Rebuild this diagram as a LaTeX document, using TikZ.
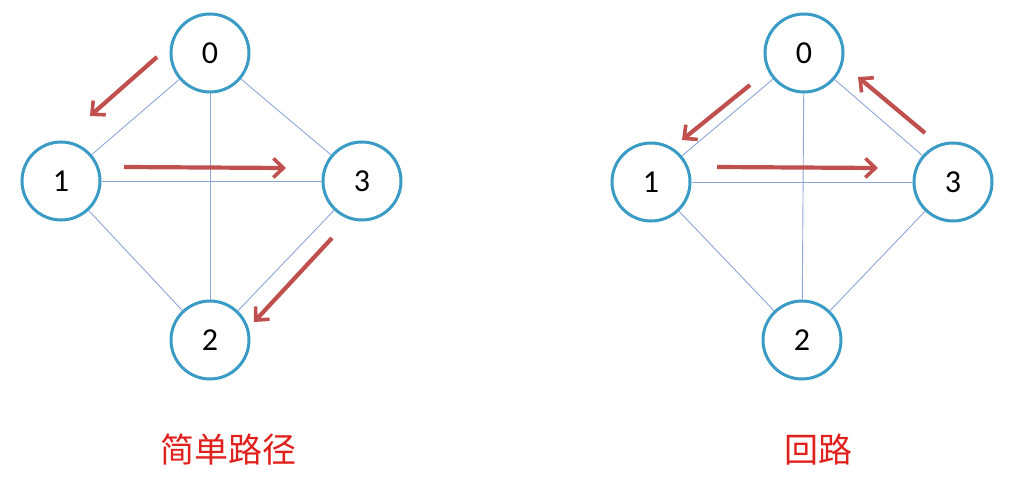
\documentclass[tikz,border=0pt]{standalone}
\usepackage{fontspec}
\setmainfont{Carlito}
\newfontfamily\cjk{Noto Sans CJK SC}
\usetikzlibrary{arrows.meta}
\definecolor{nodeblue}{HTML}{3A9BC4}
\definecolor{edgeblue}{HTML}{8CA6D6}
\definecolor{arrred}{HTML}{C0504D}
\definecolor{txtred}{HTML}{E0201C}
\tikzset{
  vtx/.style={circle,draw=nodeblue,line width=3pt,minimum size=78pt,inner sep=0pt,fill=white,font=\fontsize{32}{32}\selectfont},
  edg/.style={draw=edgeblue,line width=0.9pt},
  patharr/.style={draw=arrred,line width=4.2pt,-{Straight Barb[length=10pt,width=19pt,line width=3.6pt]}},
  captext/.style={text=txtred,font=\cjk\fontsize{34}{34}\selectfont}
}
\begin{document}
\begin{tikzpicture}[x=1pt,y=-1pt]
\useasboundingbox (0,0) rectangle (1025,492);
% left graph
\node[vtx] (a0) at (210,53) {0};
\node[vtx] (a1) at (61,181) {1};
\node[vtx] (a3) at (362,181) {3};
\node[vtx] (a2) at (210,340) {2};
\draw[edg] (a0) -- (a1);
\draw[edg] (a0) -- (a2);
\draw[edg] (a0) -- (a3);
\draw[edg] (a1) -- (a3);
\draw[edg] (a1) -- (a2);
\draw[edg] (a3) -- (a2);
% right graph
\node[vtx] (b0) at (804,53) {0};
\node[vtx] (b1) at (651,182) {1};
\node[vtx] (b3) at (953,182) {3};
\node[vtx] (b2) at (802,340) {2};
\draw[edg] (b0) -- (b1);
\draw[edg] (b0) -- (b2);
\draw[edg] (b0) -- (b3);
\draw[edg] (b1) -- (b3);
\draw[edg] (b1) -- (b2);
\draw[edg] (b3) -- (b2);
% arrows left
\coordinate (p1s) at (157,57);
\coordinate (p1e) at (90,116);
\coordinate (p2s) at (124,167);
\coordinate (p2e) at (286,168);
\coordinate (p3s) at (332,238);
\coordinate (p3e) at (254,322);
\draw[patharr] (p1s) -- (p1e);
\draw[patharr] (p2s) -- (p2e);
\draw[patharr] (p3s) -- (p3e);
% arrows right
\coordinate (q1s) at (750,85);
\coordinate (q1e) at (682,140);
\coordinate (q2s) at (717,167);
\coordinate (q2e) at (878,168);
\coordinate (q3s) at (925,133);
\coordinate (q3e) at (858,77);
\draw[patharr] (q1s) -- (q1e);
\draw[patharr] (q2s) -- (q2e);
\draw[patharr] (q3s) -- (q3e);
% captions
\node[captext] (c1) at (228,450) {简单路径};
\node[captext] (c2) at (818,450) {回路};
\end{tikzpicture}
\end{document}
